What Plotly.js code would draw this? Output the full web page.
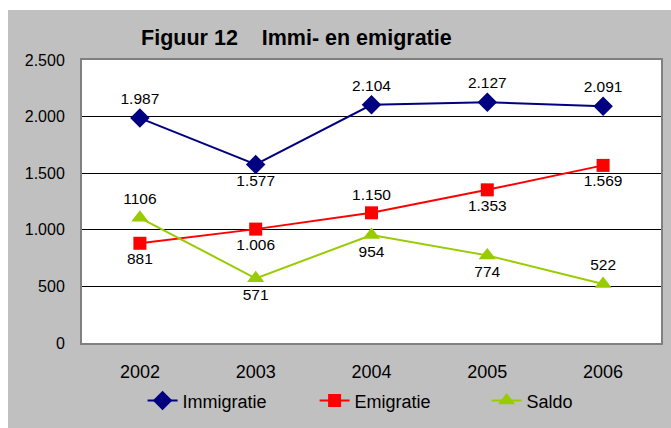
<!DOCTYPE html>
<html>
<head>
<meta charset="utf-8">
<script src="https://cdn.plot.ly/plotly-3.0.1.min.js"></script>
<style>
html,body{margin:0;padding:0;background:#fff;width:671px;height:428px;overflow:hidden;}
#chart{position:absolute;left:8px;top:10px;width:663px;height:418px;}
</style>
</head>
<body>
<div id="chart"></div>
<script>
const years = ['2002', '2003', '2004', '2005', '2006'];
const immigratie = [1987, 1577, 2104, 2127, 2091];
const emigratie = [881, 1006, 1150, 1353, 1569];
const saldo = [1106, 571, 954, 774, 522];
const seriesNames = ['Immigratie', 'Emigratie', 'Saldo'];
const titleText = 'Figuur 12\u00a0\u00a0\u00a0\u00a0Immi- en emigratie';
const yTicks = [0, 500, 1000, 1500, 2000, 2500];

const immPos = ['top center', 'bottom center', 'top center', 'top center', 'top center'];
const emiPos = ['bottom center', 'bottom center', 'top center', 'bottom center', 'bottom center'];
const salPos = ['top center', 'bottom center', 'bottom center', 'bottom center', 'top center'];

function dotFmt(v) { return String(v).replace(/\B(?=(\d{3})+(?!\d))/g, '.'); }

const font = 'Liberation Sans, Arial, sans-serif';
const labelFont = {size: 15.5, color: '#000', family: font};
const traces = [
  {x: years, y: immigratie, name: seriesNames[0], mode: 'lines+markers+text',
   text: immigratie.map(dotFmt), textposition: immPos,
   line: {color: '#000080', width: 2}, marker: {symbol: 'diamond', size: 15, color: '#000080'},
   textfont: labelFont, cliponaxis: false},
  {x: years, y: emigratie, name: seriesNames[1], mode: 'lines+markers+text',
   text: emigratie.map(dotFmt), textposition: emiPos,
   line: {color: '#FF0000', width: 2}, marker: {symbol: 'square', size: 13, color: '#FF0000'},
   textfont: labelFont, cliponaxis: false},
  {x: years, y: saldo, name: seriesNames[2], mode: 'lines+markers+text',
   text: saldo.map(String), textposition: salPos,
   line: {color: '#99CC00', width: 2}, marker: {symbol: 'triangle-up', size: 15, color: '#99CC00'},
   textfont: labelFont, cliponaxis: false}
];

const layout = {
  width: 663, height: 418,
  paper_bgcolor: '#C0C0C0', plot_bgcolor: '#FFFFFF',
  separators: ',.',
  margin: {l: 74, r: 10, t: 50, b: 85, autoexpand: false},
  font: {family: font, size: 16, color: '#000'},
  title: {text: titleText, font: {size: 21.5, family: font, color: '#000', weight: 'bold'},
          x: 0.435, xref: 'container', xanchor: 'center', y: 0.935, yanchor: 'middle'},
  xaxis: {type: 'category', range: [-0.5, 4.5], showgrid: false, zeroline: false,
          showline: true, mirror: true, linecolor: '#808080', linewidth: 2,
          ticks: '', ticklabelstandoff: 11, tickfont: {size: 18}},
  yaxis: {range: [0, 2500], tickvals: yTicks, tickformat: ',d', showgrid: true,
          gridcolor: '#000000', gridwidth: 1, zeroline: false,
          showline: true, mirror: true, linecolor: '#808080', linewidth: 2,
          ticks: '', ticklabelstandoff: 12, tickfont: {size: 16}},
  showlegend: true,
  legend: {orientation: 'h', xref: 'container', yref: 'container', x: 0.203, xanchor: 'left',
           y: 0.065, yanchor: 'middle',
           bgcolor: 'rgba(0,0,0,0)', font: {size: 18}, entrywidth: 127, entrywidthmode: 'pixels',
           traceorder: 'normal'}
};

Plotly.newPlot('chart', traces, layout, {displayModeBar: false, staticPlot: true});
</script>
</body>
</html>
